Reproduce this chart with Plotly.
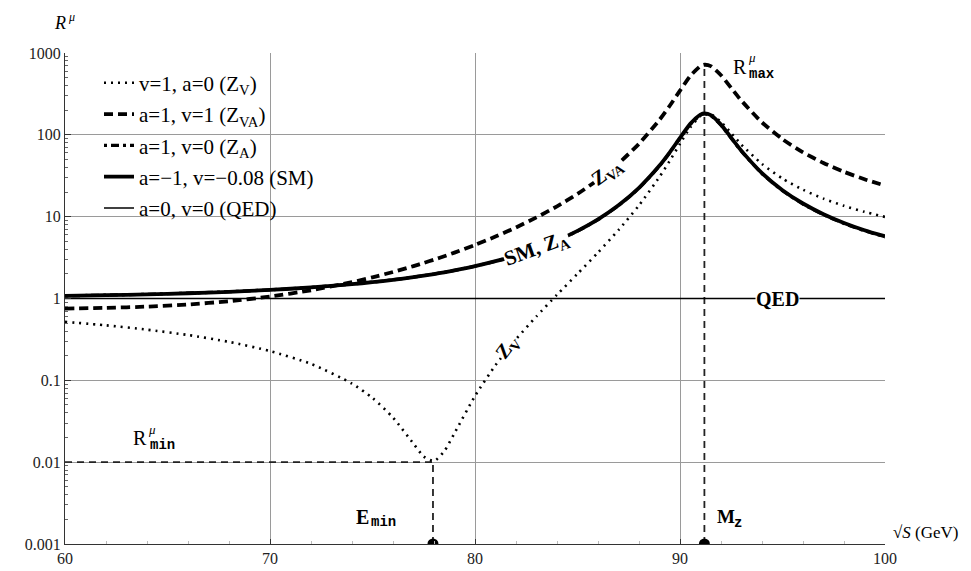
import plotly.graph_objects as go

# ---- data ----
sqrt_s = [60, 62, 64, 66, 68, 70, 72, 74, 75, 76, 77, 77.5, 78, 78.5, 79, 80, 81, 82, 83, 84, 85,
          86, 87, 88, 89, 89.5, 90, 90.5, 91, 91.2, 91.5, 92, 92.5, 93, 94, 95, 96, 97, 98, 99, 100]

r_zv = [0.519, 0.470, 0.416, 0.358, 0.295, 0.228, 0.159, 0.0913, 0.0609, 0.0351, 0.0168, 0.0117,
        0.0103, 0.0136, 0.0226, 0.0644, 0.153, 0.317, 0.606, 1.111, 2.005, 3.646, 6.856, 13.75,
        30.64, 48.15, 77.73, 123.3, 170.7, 180.5, 178.4, 143.9, 104.5, 75.74, 44.03, 29.22,
        21.32, 16.61, 13.56, 11.46, 9.94]

r_zva = [0.754, 0.768, 0.796, 0.845, 0.926, 1.056, 1.260, 1.584, 1.814, 2.109, 2.488, 2.719,
         2.983, 3.286, 3.636, 4.512, 5.709, 7.384, 9.794, 13.39, 19.00, 28.27, 44.84, 77.73,
         152.7, 226.7, 347.0, 523.8, 691.9, 718.3, 691.6, 535.1, 373.7, 261.0, 141.8, 88.50,
         61.10, 45.29, 35.33, 28.65, 23.93]

r_za = [1.078, 1.099, 1.127, 1.162, 1.211, 1.276, 1.367, 1.498, 1.585, 1.691, 1.824, 1.902,
        1.991, 2.091, 2.204, 2.482, 2.852, 3.356, 4.063, 5.093, 6.665, 9.208, 13.66, 22.33,
        41.69, 60.51, 90.75, 134.5, 174.7, 180.3, 172.1, 131.4, 90.73, 62.76, 33.58, 20.76,
        14.26, 10.56, 8.257, 6.729, 5.662]

r_sm = [1.076, 1.097, 1.124, 1.159, 1.207, 1.273, 1.364, 1.495, 1.582, 1.689, 1.823, 1.902,
        1.991, 2.092, 2.206, 2.486, 2.859, 3.366, 4.080, 5.120, 6.708, 9.277, 13.78, 22.55,
        42.14, 61.20, 91.82, 136.1, 176.9, 182.6, 174.3, 133.2, 91.97, 63.64, 34.06, 21.07,
        14.48, 10.72, 8.384, 6.833, 5.749]

qed_x = [60, 100]
qed_y = [1, 1]

E_MIN = 77.95
M_Z = 91.19
R_MIN = 0.01
R_MAX = 718.3
Y_BOTTOM = 0.001

x_ticks = [60, 70, 80, 90, 100]
y_ticks = [0.001, 0.01, 0.1, 1, 10, 100, 1000]
y_ticklabels = ["0.001", "0.01", "0.1", "1", "10", "100", "1000"]

legend_names = ["v=1, a=0 (Z<sub>V</sub>)", "a=1, v=1 (Z<sub>VA</sub>)", "a=1, v=0 (Z<sub>A</sub>)",
                "a=\u22121, v=\u22120.08 (SM)", "a=0, v=0 (QED)"]

SERIF = "Liberation Serif, Times New Roman, DejaVu Serif, serif"
MONO = "Liberation Mono, Courier New, DejaVu Sans Mono, monospace"

fig = go.Figure()

# reference dashed lines
dash_ref = dict(color="#222", width=1.8, dash="7px,5px")
fig.add_trace(go.Scatter(x=[sqrt_s[0], E_MIN], y=[R_MIN, R_MIN], mode="lines", line=dash_ref,
                         showlegend=False, hoverinfo="skip"))
fig.add_trace(go.Scatter(x=[E_MIN, E_MIN], y=[Y_BOTTOM, R_MIN], mode="lines", line=dash_ref,
                         showlegend=False, hoverinfo="skip"))
fig.add_trace(go.Scatter(x=[M_Z, M_Z], y=[Y_BOTTOM, R_MAX], mode="lines", line=dash_ref,
                         showlegend=False, hoverinfo="skip"))
fig.add_trace(go.Scatter(x=[E_MIN, M_Z], y=[Y_BOTTOM, Y_BOTTOM], mode="markers",
                         marker=dict(color="black", size=11), cliponaxis=True,
                         showlegend=False, hoverinfo="skip"))

# curves
fig.add_trace(go.Scatter(x=sqrt_s, y=r_zv, mode="lines", name=legend_names[0], legendrank=1,
                         legendgroup="g1",
                         line=dict(color="black", width=2.6, dash="2px,5px", shape="spline", smoothing=0.6)))
fig.add_trace(go.Scatter(x=sqrt_s, y=r_zva, mode="lines", name=legend_names[1], legendrank=2,
                         legendgroup="g2",
                         line=dict(color="black", width=3.8, dash="9px,5px", shape="spline", smoothing=0.6)))
fig.add_trace(go.Scatter(x=sqrt_s, y=r_za, mode="lines", name=legend_names[2], legendrank=3,
                         legendgroup="g3",
                         line=dict(color="black", width=3.2, dash="3px,4px,8px,4px", shape="spline", smoothing=0.6)))
fig.add_trace(go.Scatter(x=sqrt_s, y=r_sm, mode="lines", name=legend_names[3], legendrank=4,
                         legendgroup="g4",
                         line=dict(color="black", width=3.8, shape="spline", smoothing=0.6)))
fig.add_trace(go.Scatter(x=qed_x, y=qed_y, mode="lines", name=legend_names[4], legendrank=5,
                         legendgroup="g5",
                         line=dict(color="black", width=1.6)))

# ---- layout geometry ----
L, R, T, B = 57, 94, 45, 18
W, H = 971, 571
PW, PH = W - L - R, H - T - B


def paper(px, py):
    return (px - L) / PW, (H - B - py) / PH


annotations = []


def label(px, py, text, size, family=SERIF, color="black", xanchor="center", **kw):
    xp, yp = paper(px, py)
    annotations.append(dict(x=xp, y=yp, xref="paper", yref="paper", text=text, showarrow=False,
                            xanchor=xanchor, yanchor="middle",
                            font=dict(family=family, size=size, color=color), **kw))


# R^mu_max
label(732, 59, "R", 20)
label(744, 50, "<i>\u03bc</i>", 13)
label(754, 67, "<b>max</b>", 14, family=MONO)
# R^mu_min
label(132, 443, "R", 20)
label(144, 435, "<i>\u03bc</i>", 13)
label(154, 451, "<b>min</b>", 14, family=MONO)
# E_min
label(354, 525, "<b>E</b>", 20)
label(375, 530, "<b>min</b>", 14, family=MONO)
# M_z
label(718, 525, "<b>M</b>", 19)
label(730, 531, "<b>z</b>", 14, family=MONO)
# axis titles
label(52, 14, "<i>R</i>", 18)
label(63, 8, "<i>\u03bc</i>", 12)
label(884, 541, "\u221a<i>S</i> (GeV)", 17, xanchor="left", borderpad=0)

# curve labels (data coordinates; y in log10 units)
curve_labels = [
    (86.45, 1.545, "<b>Z<sub>VA</sub></b>", -36, 20),
    (82.98, 0.609, "<b>SM, Z<sub>A</sub></b>", -20, 21),
    (81.6, -0.60, "<b>Z<sub>V</sub></b>", -53, 20),
    (94.78, 0.0, "<b>QED</b>", 0, 20),
]
for cx, cy, txt, ang, fs in curve_labels:
    annotations.append(dict(x=cx, y=cy, xref="x", yref="y", text=txt, showarrow=False,
                            textangle=ang, bgcolor="white", borderpad=0,
                            font=dict(family=SERIF, size=fs, color="black")))

minor_y = [m * 10 ** e for e in range(-3, 3) for m in range(2, 10)]

fig.update_layout(
    width=W, height=H,
    margin=dict(l=L, r=R, t=T, b=B),
    paper_bgcolor="white", plot_bgcolor="white",
    font=dict(family=SERIF, size=15, color="#222"),
    showlegend=True,
    legend=dict(x=paper(91, 0)[0], y=paper(0, 55)[1], xanchor="left", yanchor="top",
                bgcolor="rgba(0,0,0,0)", borderwidth=0,
                font=dict(family=SERIF, size=21, color="black"),
                traceorder="grouped", tracegroupgap=1, itemwidth=30),
    xaxis=dict(range=[60, 100], tickmode="array", tickvals=x_ticks,
               ticktext=[str(v) for v in x_ticks],
               showgrid=True, gridcolor="#9a9a9a", gridwidth=1,
               showline=True, linecolor="#333", linewidth=1.3,
               ticks="inside", ticklen=5, tickcolor="#333",
               minor=dict(ticks="inside", ticklen=3, tickcolor="#bbb", dtick=2, showgrid=False),
               zeroline=False, tickfont=dict(family=SERIF, size=16, color="#222")),
    yaxis=dict(type="log", range=[-3, 3], tickmode="array", tickvals=y_ticks, ticktext=y_ticklabels,
               showgrid=True, gridcolor="#9a9a9a", gridwidth=1,
               showline=True, linecolor="#333", linewidth=1.3,
               ticks="inside", ticklen=6, tickcolor="#333",
               minor=dict(ticks="inside", ticklen=3, tickcolor="#666", tickmode="array",
                          tickvals=minor_y, showgrid=False),
               zeroline=False, tickfont=dict(family=SERIF, size=16, color="#222")),
    annotations=annotations,
)

fig.write_html("out.html")
